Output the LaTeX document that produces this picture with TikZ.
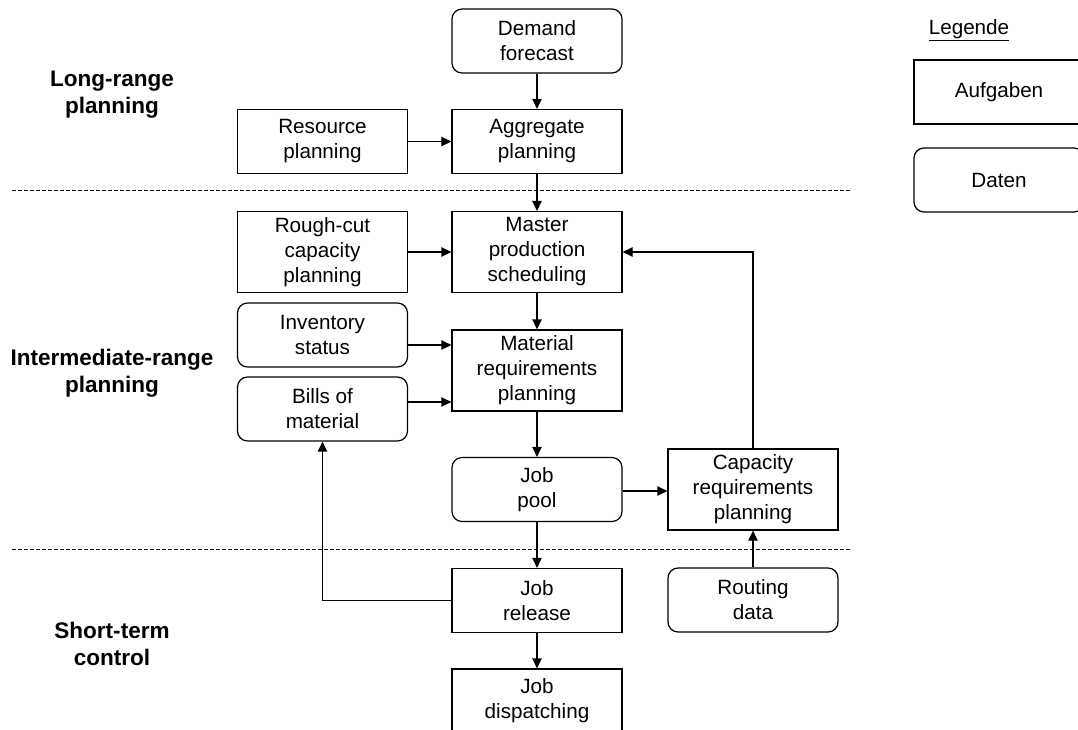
\documentclass[tikz,border=0pt]{standalone}
\usepackage{fontspec}
\setmainfont{Liberation Sans}
\usetikzlibrary{arrows.meta}
\begin{document}
\begin{tikzpicture}[x=0.75pt,y=-0.75pt,
  every node/.style={font=\fontsize{15.5}{18.75}\selectfont, align=center, inner sep=0pt},
  task/.style={draw, line width=0.9pt, minimum width=127.5pt, minimum height=48pt},
  data/.style={task, rounded corners=7.5pt},
  tall/.style={minimum height=60.75pt},
  phase/.style={font=\fontsize{16.9}{20.25}\selectfont\bfseries},
  arr/.style={line width=0.9pt, -{Triangle[length=7.5pt,width=7pt]}},
  sep/.style={line width=0.6pt, dash pattern=on 3pt off 1.5pt}]
  \useasboundingbox (0,0) rectangle (1078,729);
  \fill[white] (0,0) rectangle (1078,729);
  \clip (0,0) rectangle (1078,729);

  % planning horizons
  \node[phase] (long)  at (112,94.5)  {Long-range\\planning};
  \node[phase] (inter) at (112,373.5) {Intermediate-range\\planning};
  \node[phase] (short) at (112,644)   {Short-term\\control};

  \draw[sep] (12,190) coordinate (s1a) -- (850,190) coordinate (s1b);
  \draw[sep] (12,549) coordinate (s2a) -- (850,549) coordinate (s2b);

  % tasks and data
  \node[data] (demand)    at (537,41)     {Demand\\forecast};
  \node[task] (aggr)      at (537,141.5)  {Aggregate\\planning};
  \node[task] (resource)  at (322.5,141.5){Resource\\planning};
  \node[task,tall] (rough) at (322.5,252) {Rough-cut\\capacity\\planning};
  \node[task,tall] (mps)  at (537,252)    {Master\\production\\scheduling};
  \node[data] (inventory) at (322.5,335)  {Inventory\\status};
  \node[task,tall] (mrp)  at (537,370.5)  {Material\\requirements\\planning};
  \node[data] (bills)     at (322.5,409)  {Bills of\\material};
  \node[data] (jobpool)   at (537,489.5)  {Job\\pool};
  \node[task,tall] (crp)  at (753,489.5)  {Capacity\\requirements\\planning};
  \node[task] (release)   at (537,600.5)  {Job\\release};
  \node[data] (routing)   at (753,600)    {Routing\\data};
  \node[task] (dispatch)  at (537,701)    {Job\\dispatching};

  % legend
  \node (legende) at (969,30) {\underline{Legende}};
  \node[task] (legtask) at (999,92)  {Aufgaben};
  \node[data] (legdata) at (999,180) {Daten};

  % flows
  \draw[arr] (demand) -- (aggr);
  \draw[arr] (resource) -- (aggr);
  \draw[arr] (aggr) -- (mps);
  \draw[arr] (rough) -- (mps);
  \draw[arr] (mps) -- (mrp);
  \draw[arr] (inventory.east |- 0,345) -- (mrp.west |- 0,345);
  \draw[arr] (bills.east |- 0,402) -- (mrp.west |- 0,402);
  \draw[arr] (mrp) -- (jobpool);
  \draw[arr] (jobpool.east |- 0,491) -- (crp.west |- 0,491);
  \draw[arr] (jobpool) -- (release);
  \draw[arr] (release) -- (dispatch);
  \draw[arr] (routing) -- (crp);
  \draw[arr] (crp.north) |- (mps.east);
  \draw[arr] (release.west) -| (bills.south);
\end{tikzpicture}
\end{document}
